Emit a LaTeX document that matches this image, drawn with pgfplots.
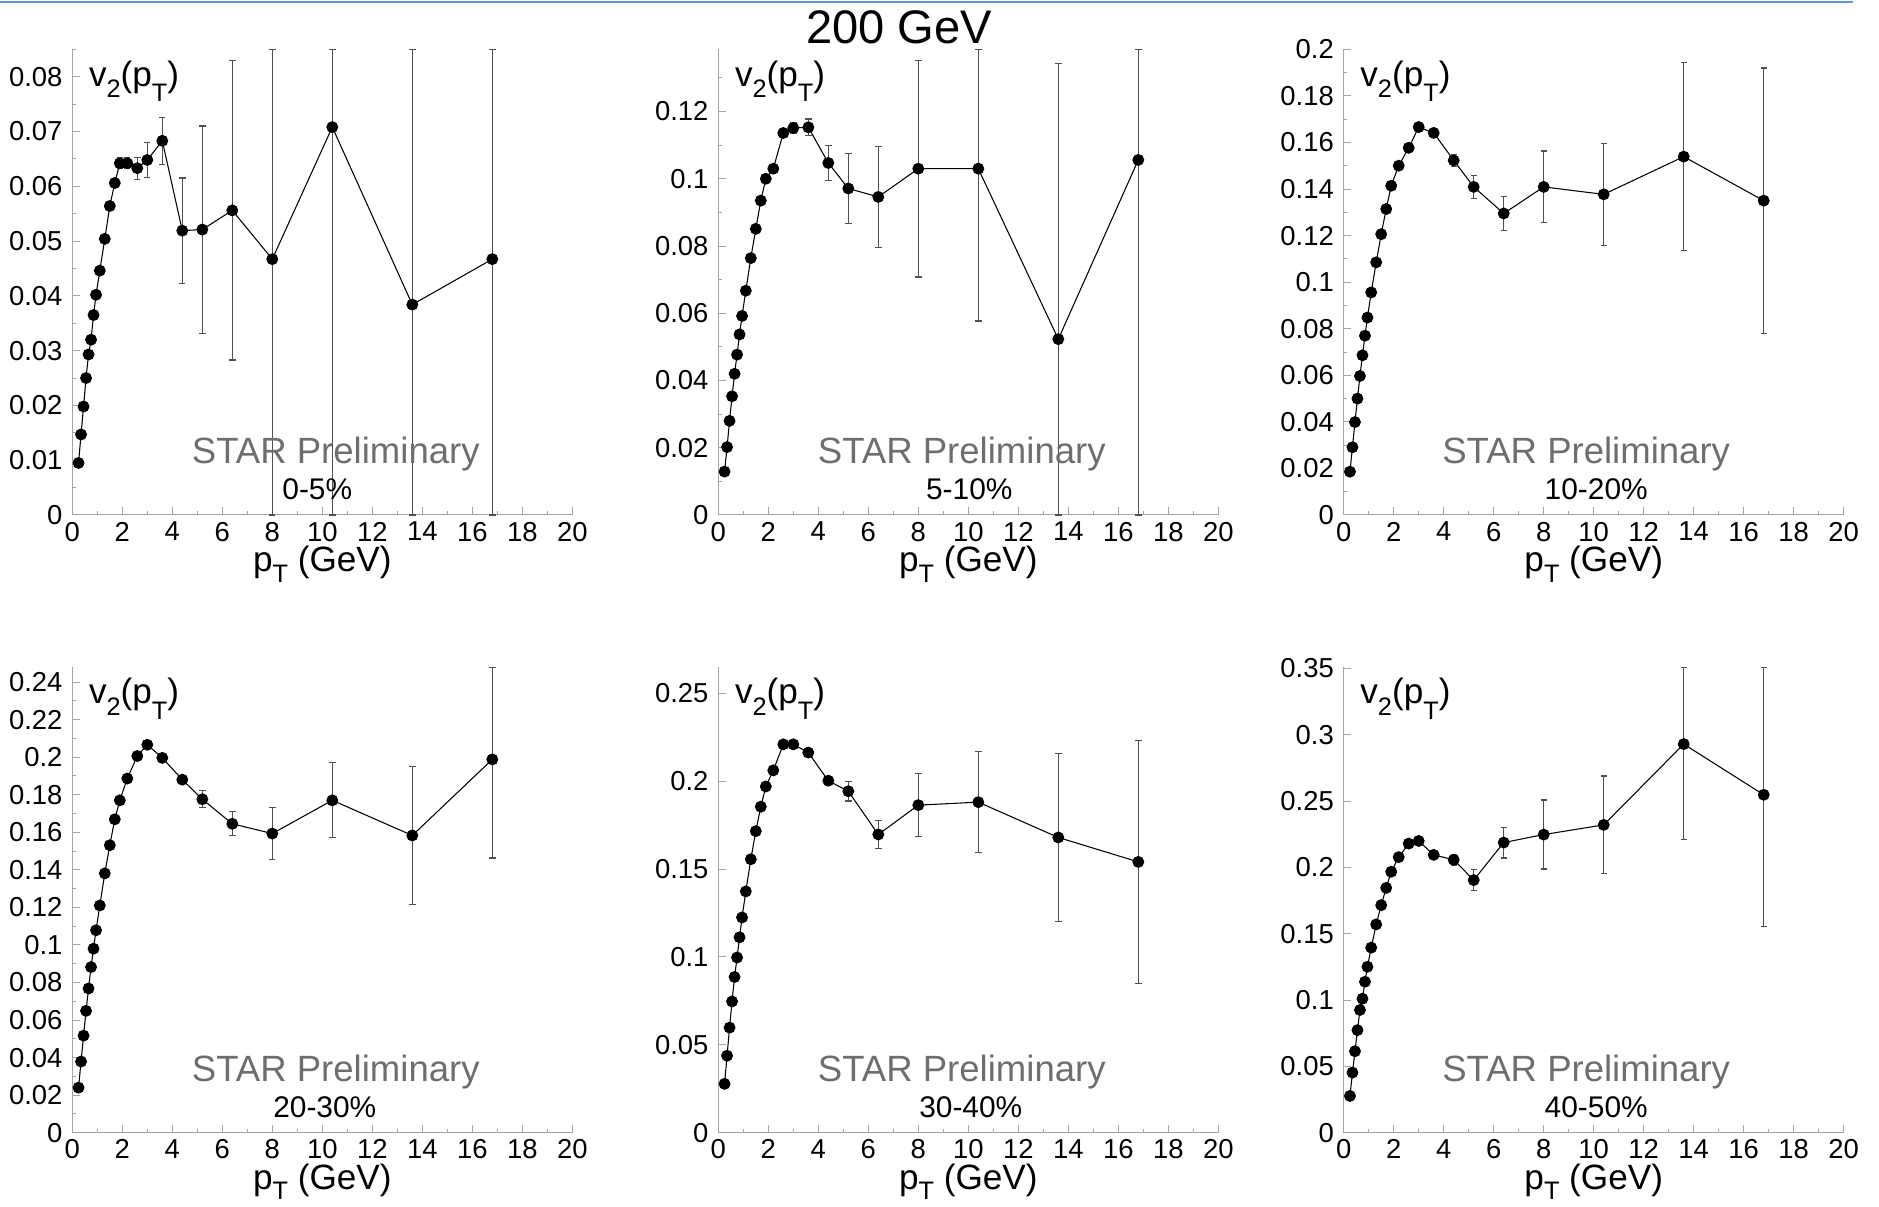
\documentclass[border=0pt]{standalone}
\usepackage{fontspec}
\setmainfont{Liberation Sans}
\usepackage{pgfplots}
\usepackage{pgfplotstable}
\pgfplotsset{compat=1.18}
\definecolor{errgray}{RGB}{80,80,80}
\definecolor{axgray}{RGB}{165,165,165}
\definecolor{stargray}{RGB}{110,110,110}
\definecolor{topblue}{RGB}{100,150,210}

\pgfplotstableread{
x y ep em
0.25 0.0095 0 0
0.35 0.0147 0 0
0.45 0.0198 0 0
0.55 0.0250 0 0
0.65 0.0293 0 0
0.75 0.0320 0 0
0.85 0.0365 0 0
0.95 0.0402 0 0
1.1 0.0446 0 0
1.3 0.0504 0 0
1.5 0.0564 0 0
1.7 0.0606 0 0
1.9 0.0642 0.001 0.001
2.2 0.0642 0.001 0.001
2.6 0.0633 0.002 0.002
3.0 0.0648 0.0032 0.0032
3.6 0.0683 0.0043 0.0043
4.4 0.0519 0.0096 0.0096
5.2 0.0521 0.0189 0.0189
6.4 0.0556 0.0273 0.0273
8.0 0.0467 0.0383 0.0467
10.4 0.0708 0.0142 0.0708
13.6 0.0384 0.0466 0.0384
16.8 0.0467 0.0383 0.0467
}\dataA

\pgfplotstableread{
x y ep em
0.25 0.0129 0 0
0.35 0.0202 0 0
0.45 0.0280 0 0
0.55 0.0353 0 0
0.65 0.0420 0 0
0.75 0.0477 0 0
0.85 0.0537 0 0
0.95 0.0592 0 0
1.1 0.0667 0 0
1.3 0.0764 0 0
1.5 0.0851 0 0
1.7 0.0935 0 0
1.9 0.1000 0 0
2.2 0.1030 0 0
2.6 0.1136 0.001 0.001
3.0 0.1151 0.0015 0.0015
3.6 0.1153 0.0025 0.0025
4.4 0.1047 0.0053 0.0053
5.2 0.0971 0.0105 0.0105
6.4 0.0946 0.0150 0.0150
8.0 0.1030 0.0322 0.0322
10.4 0.1030 0.0354 0.0453
13.6 0.0523 0.0820 0.0523
16.8 0.1056 0.0328 0.1056
}\dataB

\pgfplotstableread{
x y ep em
0.25 0.0186 0 0
0.35 0.0291 0 0
0.45 0.0399 0 0
0.55 0.0500 0 0
0.65 0.0597 0 0
0.75 0.0686 0 0
0.85 0.0770 0 0
0.95 0.0848 0 0
1.1 0.0956 0 0
1.3 0.1085 0 0
1.5 0.1206 0 0
1.7 0.1314 0 0
1.9 0.1414 0 0
2.2 0.1500 0 0
2.6 0.1577 0 0
3.0 0.1666 0 0
3.6 0.1641 0.001 0.001
4.4 0.1523 0.0025 0.0025
5.2 0.1409 0.0050 0.0050
6.4 0.1295 0.0072 0.0072
8.0 0.1409 0.0154 0.0154
10.4 0.1377 0.0219 0.0219
13.6 0.1539 0.0403 0.0403
16.8 0.1350 0.0570 0.0570
}\dataC

\pgfplotstableread{
x y ep em
0.25 0.0240 0 0
0.35 0.0379 0 0
0.45 0.0517 0 0
0.55 0.0649 0 0
0.65 0.0768 0 0
0.75 0.0882 0 0
0.85 0.0980 0 0
0.95 0.1078 0 0
1.1 0.1210 0 0
1.3 0.1381 0 0
1.5 0.1531 0 0
1.7 0.1669 0 0
1.9 0.1770 0 0
2.2 0.1886 0 0
2.6 0.2006 0 0
3.0 0.2066 0 0
3.6 0.1996 0.001 0.001
4.4 0.1880 0.002 0.002
5.2 0.1776 0.0045 0.0045
6.4 0.1645 0.0064 0.0064
8.0 0.1593 0.0140 0.0140
10.4 0.1770 0.0200 0.0200
13.6 0.1583 0.0368 0.0368
16.8 0.1988 0.0490 0.0525
}\dataD

\pgfplotstableread{
x y ep em
0.25 0.0278 0 0
0.35 0.0438 0 0
0.45 0.0598 0 0
0.55 0.0747 0 0
0.65 0.0886 0 0
0.75 0.0997 0 0
0.85 0.1112 0 0
0.95 0.1225 0 0
1.1 0.1373 0 0
1.3 0.1556 0 0
1.5 0.1716 0 0
1.7 0.1855 0 0
1.9 0.1970 0 0
2.2 0.2062 0 0
2.6 0.2210 0 0
3.0 0.2210 0 0
3.6 0.2163 0.001 0.001
4.4 0.2003 0.002 0.002
5.2 0.1943 0.0055 0.0055
6.4 0.1697 0.0080 0.0080
8.0 0.1864 0.0180 0.0180
10.4 0.1881 0.0287 0.0287
13.6 0.1680 0.0476 0.0476
16.8 0.1541 0.0690 0.0690
}\dataE

\pgfplotstableread{
x y ep em
0.25 0.0277 0 0
0.35 0.0453 0 0
0.45 0.0614 0 0
0.55 0.0773 0 0
0.65 0.0925 0 0
0.75 0.1010 0 0
0.85 0.1138 0 0
0.95 0.1251 0 0
1.1 0.1395 0 0
1.3 0.1570 0 0
1.5 0.1715 0 0
1.7 0.1845 0 0
1.9 0.1967 0 0
2.2 0.2077 0 0
2.6 0.2179 0 0
3.0 0.2199 0 0
3.6 0.2094 0.001 0.001
4.4 0.2057 0.0040 0.0040
5.2 0.1904 0.0080 0.0080
6.4 0.2187 0.0116 0.0116
8.0 0.2247 0.0260 0.0260
10.4 0.2320 0.0368 0.0368
13.6 0.2929 0.0580 0.0722
16.8 0.2547 0.0962 0.0994
}\dataF

\newcommand{\sub}[1]{\raisebox{-0.33em}{\fontsize{7.2}{8}\selectfont #1}}
\newcommand{\subT}{\raisebox{-0.45em}{\fontsize{7.2}{8}\selectfont T}}
\newcommand{\subTx}{\raisebox{-0.3em}{\fontsize{7.2}{8}\selectfont T}}

\pgfplotsset{
  panel/.style={
    scale only axis, width=50mm, height=46.57mm,
    xmin=0, xmax=20, ymin=0,
    axis lines=left,
    axis line style={-, draw=axgray, line width=0.1mm},
    every tick/.style={axgray, line width=0.1mm},
    tick align=inside,
    major tick length=0.75mm, minor tick length=0.35mm,
    xtick={0,2,4,6,8,10,12,14,16,18,20}, minor x tick num=1,
    tick label style={font=\fontsize{7.8}{9}\selectfont, /pgf/number format/assume math mode=true},
    xticklabel style={yshift=0.55mm},
    scaled y ticks=false,
    yticklabel style={/pgf/number format/fixed, /pgf/number format/precision=2, xshift=0.25mm},
    xlabel={p\subTx\ (GeV)},
    xlabel style={font=\fontsize{10}{12}\selectfont, at={(axis description cs:0.5,0)}, anchor=base, yshift=-5.65mm},
    clip=false,
  },
  dat/.style={
    black, line width=0.3pt, mark=*, mark size=0.54mm,
    mark options={fill=black, draw=black},
    error bars/.cd, y dir=both, y explicit,
    error bar style={errgray, line width=0.12mm},
    error mark options={rotate=90, errgray, mark size=0.32mm, line width=0.12mm},
  },
}

\newcommand{\vlabel}{\node[anchor=north west, inner sep=0pt, font=\fontsize{10}{12}\selectfont] at (rel axis cs:0,1) [xshift=1.6mm, yshift=-1.07mm] {v\sub{2}(p\subT)};}
\newcommand{\starlabel}[3]{%
  \node[text=stargray, font=\fontsize{10.4}{12}\selectfont] at (rel axis cs:#1,0.13) {STAR Preliminary};
  \node[font=\fontsize{8.5}{10}\selectfont] at (rel axis cs:#2,0.055) {#3};}

\begin{document}
\begin{tikzpicture}
\path[use as bounding box] (0,0) rectangle (187.9mm,-120.7mm);
\draw[topblue, line width=0.25mm] (0,-0.22mm) -- (185.3mm,-0.22mm);
\node[anchor=base, font=\fontsize{13.4}{16}\selectfont] at (89.9mm,-4.4mm) {200 GeV};

\begin{axis}[panel, at={(7.23mm,-51.5mm)}, anchor=south west,
  ymax=0.085, ytick distance=0.01, minor y tick num=1]
  \addplot+[dat] table[x=x, y=y, y error plus=ep, y error minus=em] {\dataA};
  \vlabel
  \starlabel{0.527}{0.49}{0-5\%}
\end{axis}

\begin{axis}[panel, at={(71.83mm,-51.5mm)}, anchor=south west,
  ymax=0.1385, ytick distance=0.02, minor y tick num=1]
  \addplot+[dat] table[x=x, y=y, y error plus=ep, y error minus=em] {\dataB};
  \vlabel
  \starlabel{0.487}{0.502}{5-10\%}
\end{axis}

\begin{axis}[panel, at={(134.37mm,-51.5mm)}, anchor=south west,
  ymax=0.2, ytick distance=0.02, minor y tick num=1]
  \addplot+[dat] table[x=x, y=y, y error plus=ep, y error minus=em] {\dataC};
  \vlabel
  \starlabel{0.485}{0.505}{10-20\%}
\end{axis}

\begin{axis}[panel, at={(7.23mm,-113.27mm)}, anchor=south west,
  ymax=0.248, ytick distance=0.02, minor y tick num=1]
  \addplot+[dat] table[x=x, y=y, y error plus=ep, y error minus=em] {\dataD};
  \vlabel
  \starlabel{0.527}{0.505}{20-30\%}
\end{axis}

\begin{axis}[panel, at={(71.83mm,-113.27mm)}, anchor=south west,
  ymax=0.265, ytick distance=0.05]
  \addplot+[dat] table[x=x, y=y, y error plus=ep, y error minus=em] {\dataE};
  \vlabel
  \starlabel{0.487}{0.505}{30-40\%}
\end{axis}

\begin{axis}[panel, at={(134.37mm,-113.27mm)}, anchor=south west,
  ymax=0.351, ytick distance=0.05]
  \addplot+[dat] table[x=x, y=y, y error plus=ep, y error minus=em] {\dataF};
  \vlabel
  \starlabel{0.485}{0.505}{40-50\%}
\end{axis}
\end{tikzpicture}
\end{document}
